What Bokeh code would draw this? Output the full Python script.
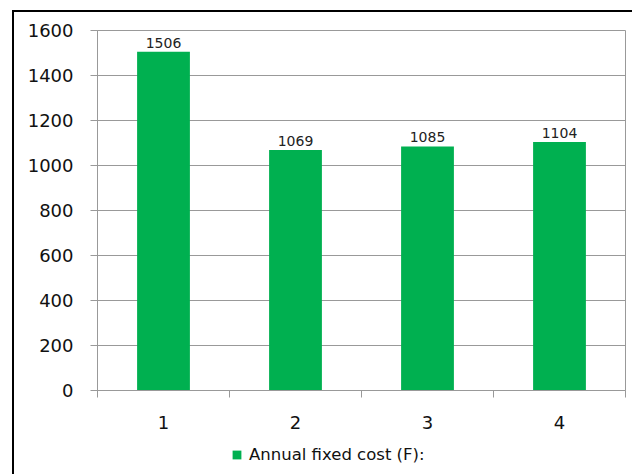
from bokeh.plotting import figure
from bokeh.layouts import column
from bokeh.models import ColumnDataSource, FixedTicker, Range1d, Legend, LegendItem, LabelSet
from bokeh.core.properties import value
from bokeh.embed import file_html
from bokeh.resources import INLINE

categories = [1, 2, 3, 4]
tick_labels = ["1", "2", "3", "4"]
values = [1506, 1069, 1085, 1104]
series_name = "Annual fixed cost (F):"
GREEN = "#00B050"
GRAY = "#999999"
FONT = "DejaVu Sans"

src = ColumnDataSource(dict(x=categories, top=values, lab=[str(v) for v in values]))

p = figure(width=618, height=430, output_backend="svg", toolbar_location=None,
           x_range=Range1d(0.5, 4.5), y_range=Range1d(0, 1600),
           min_border_left=83, min_border_top=18, min_border_right=7, min_border_bottom=52)
p.outline_line_color = GRAY
p.background_fill_color = "white"
p.border_fill_color = "white"

r = p.vbar(x="x", top="top", width=0.4, source=src, fill_color=GREEN, line_color=None)

labels = LabelSet(x="x", y="top", text="lab", source=src, text_align="center",
                  text_baseline="bottom", y_offset=4, text_font=value(FONT),
                  text_font_size="14px", text_color="#222222")
p.add_layout(labels)

p.xgrid.grid_line_color = None
p.ygrid.grid_line_color = GRAY
p.ygrid.ticker = FixedTicker(ticks=list(range(0, 1601, 200)))

p.xaxis.ticker = FixedTicker(ticks=categories, minor_ticks=[0.5, 1.5, 2.5, 3.5, 4.5])
p.xaxis.major_label_overrides = {c: t for c, t in zip(categories, tick_labels)}
p.xaxis.major_tick_line_color = None
p.xaxis.major_tick_out = 0
p.xaxis.major_tick_in = 0
p.xaxis.minor_tick_line_color = GRAY
p.xaxis.minor_tick_out = 7
p.xaxis.minor_tick_in = 0
p.xaxis.axis_line_color = GRAY
p.xaxis.major_label_standoff = 18
p.xaxis.major_label_text_font = FONT
p.xaxis.major_label_text_font_size = "18px"
p.xaxis.major_label_text_color = "#111111"

p.yaxis.ticker = FixedTicker(ticks=list(range(0, 1601, 200)))
p.yaxis.major_tick_line_color = GRAY
p.yaxis.major_tick_out = 7
p.yaxis.major_tick_in = 0
p.yaxis.minor_tick_line_color = None
p.yaxis.axis_line_color = GRAY
p.yaxis.major_label_standoff = 17
p.yaxis.major_label_text_font = FONT
p.yaxis.major_label_text_font_size = "18px"
p.yaxis.major_label_text_color = "#111111"

# legend strip below the chart
p2 = figure(width=618, height=32, output_backend="svg", toolbar_location=None,
            x_range=Range1d(0, 1), y_range=Range1d(0, 1),
            min_border_left=0, min_border_right=0, min_border_top=0, min_border_bottom=0)
p2.axis.visible = False
p2.grid.visible = False
p2.outline_line_color = None
p2.border_fill_color = "white"
r2 = p2.vbar(x=[5], top=[0], width=0.1, fill_color=GREEN, line_color=None)
legend = Legend(items=[LegendItem(label=series_name, renderers=[r2])],
                location=(134, 10), orientation="horizontal",
                border_line_color=None, background_fill_alpha=0,
                label_text_font=FONT, label_text_font_size="16.5px",
                label_text_color="#111111", glyph_width=11, glyph_height=11,
                padding=0, margin=0, label_standoff=7)
p2.add_layout(legend)

layout = column(p, p2, spacing=0,
                styles={"border-left": "2px solid black", "border-top": "2px solid black",
                        "margin-left": "12px", "margin-top": "10px"})

open("out.html", "w").write(file_html(layout, INLINE))
